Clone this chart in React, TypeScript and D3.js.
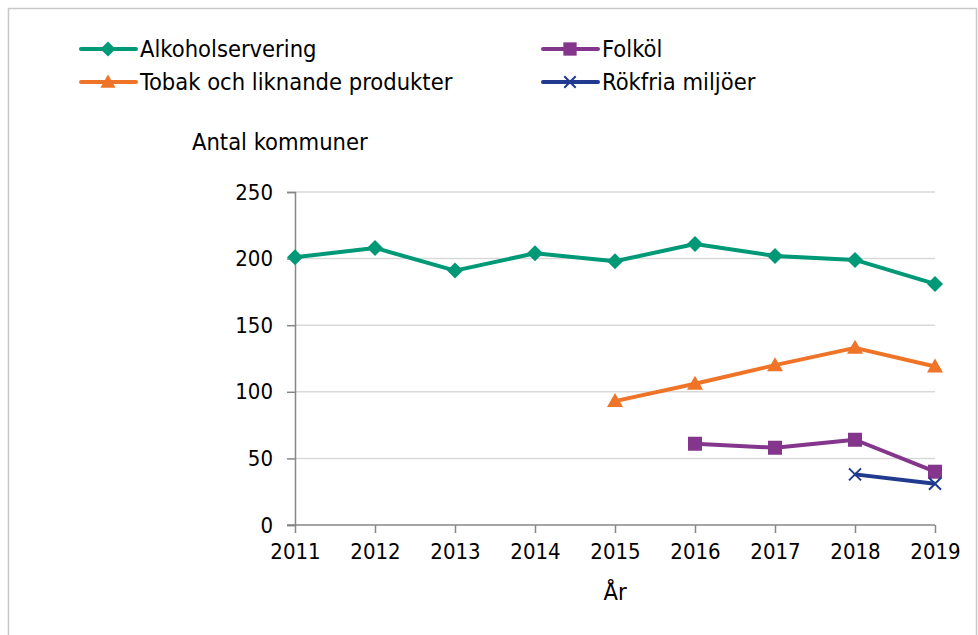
import React, { useEffect, useRef } from 'react';
import * as d3 from 'd3';

const years = [2011, 2012, 2013, 2014, 2015, 2016, 2017, 2018, 2019];
const alkoholservering = [201, 208, 191, 204, 198, 211, 202, 199, 181];
const tobak = [null, null, null, null, 93, 106, 120, 133, 119];
const folkol = [null, null, null, null, null, 61, 58, 64, 40];
const rokfria = [null, null, null, null, null, null, null, 38, 31];
const yTicks = [0, 50, 100, 150, 200, 250];

type Series = { name: string; values: (number | null)[]; color: string; marker: string };

const series: Series[] = [
  { name: 'Alkoholservering', values: alkoholservering, color: '#009977', marker: 'diamond' },
  { name: 'Tobak och liknande produkter', values: tobak, color: '#ef7427', marker: 'triangle' },
  { name: 'Folköl', values: folkol, color: '#84368c', marker: 'square' },
  { name: 'Rökfria miljöer', values: rokfria, color: '#1f3a8f', marker: 'cross' },
];

const FONT = '"DejaVu Sans Condensed", "DejaVu Sans", sans-serif';

function drawMarker(g: d3.Selection<SVGGElement, unknown, null, undefined>, kind: string, x: number, y: number, color: string, s = 1) {
  if (kind === 'diamond') {
    const r = 8 * s;
    g.append('path')
      .attr('d', `M${x},${y - r}L${x + r},${y}L${x},${y + r}L${x - r},${y}Z`)
      .attr('fill', color);
  } else if (kind === 'square') {
    const r = 7 * s;
    g.append('rect').attr('x', x - r).attr('y', y - r).attr('width', 2 * r).attr('height', 2 * r).attr('fill', color);
  } else if (kind === 'triangle') {
    const r = 8 * s;
    g.append('path')
      .attr('d', `M${x},${y - r}L${x + r},${y + r * 0.75}L${x - r},${y + r * 0.75}Z`)
      .attr('fill', color);
  } else {
    const r = 6 * s;
    g.append('path')
      .attr('d', `M${x - r},${y - r}L${x + r},${y + r}M${x - r},${y + r}L${x + r},${y - r}`)
      .attr('stroke', color)
      .attr('stroke-width', 2)
      .attr('fill', 'none');
  }
}

export default function App() {
  const svgRef = useRef<SVGSVGElement>(null);
  const width = 978;
  const height = 635;

  useEffect(() => {
    const svg = d3.select(svgRef.current);
    svg.selectAll('*').remove();

    // chart frame
    svg.append('rect')
      .attr('x', 8.5).attr('y', 8.5)
      .attr('width', 968).attr('height', 640)
      .attr('fill', 'white')
      .attr('stroke', '#c8c8c8')
      .attr('stroke-width', 1.5);

    const x = d3.scalePoint<number>().domain(years).range([295, 935]);
    const y = d3.scaleLinear().domain([0, 250]).range([525, 192]);

    const g = svg.append('g');

    // gridlines
    g.selectAll('.grid')
      .data(yTicks.filter(t => t > 0))
      .enter()
      .append('line')
      .attr('x1', 295).attr('x2', 935)
      .attr('y1', d => y(d)).attr('y2', d => y(d))
      .attr('stroke', '#d9d9d9')
      .attr('stroke-width', 1.5);

    // y axis
    const yAxis = g.append('g')
      .attr('transform', 'translate(295,0)')
      .call(d3.axisLeft(y).tickValues(yTicks).tickSize(8).tickPadding(14));
    yAxis.select('.domain').attr('stroke', '#868686').attr('stroke-width', 1.5);
    yAxis.selectAll('line').attr('stroke', '#868686').attr('stroke-width', 1.5);
    yAxis.selectAll('text')
      .attr('fill', '#000')
      .style('font-family', FONT)
      .style('font-size', '22px');

    // x axis
    const xAxis = g.append('g')
      .attr('transform', 'translate(0,525)')
      .call(d3.axisBottom(x).tickSize(8).tickPadding(10));
    xAxis.select('.domain').attr('d', 'M287,0H935').attr('stroke', '#868686').attr('stroke-width', 1.5);
    xAxis.selectAll('line').attr('stroke', '#868686').attr('stroke-width', 1.5);
    xAxis.selectAll('text')
      .attr('fill', '#000')
      .style('font-family', FONT)
      .style('font-size', '22px');

    // axis titles
    svg.append('text')
      .attr('x', 192).attr('y', 150)
      .style('font-family', FONT).style('font-size', '23.5px')
      .text('Antal kommuner');
    svg.append('text')
      .attr('x', 615).attr('y', 600)
      .attr('text-anchor', 'middle')
      .style('font-family', FONT).style('font-size', '23.5px')
      .text('År');

    // lines and markers
    series.forEach(s => {
      const pts = years
        .map((yr, i) => ({ yr, v: s.values[i] }))
        .filter(d => d.v !== null) as { yr: number; v: number }[];
      const line = d3.line<{ yr: number; v: number }>()
        .x(d => x(d.yr) as number)
        .y(d => y(d.v));
      g.append('path')
        .datum(pts)
        .attr('d', line)
        .attr('fill', 'none')
        .attr('stroke', s.color)
        .attr('stroke-width', 4)
        .attr('stroke-linejoin', 'round');
      pts.forEach(d => drawMarker(g, s.marker, x(d.yr) as number, y(d.v), s.color));
    });

    // legend
    const legendPos = [
      { lx: 81, ly: 49 },
      { lx: 81, ly: 82 },
      { lx: 543, ly: 49 },
      { lx: 543, ly: 82 },
    ];
    series.forEach((s, i) => {
      const { lx, ly } = legendPos[i];
      const lg = svg.append('g');
      lg.append('line')
        .attr('x1', lx).attr('x2', lx + 55)
        .attr('y1', ly).attr('y2', ly)
        .attr('stroke', s.color)
        .attr('stroke-width', 4)
        .attr('stroke-linecap', 'round');
      drawMarker(lg, s.marker, lx + 27, ly, s.color, 0.95);
      lg.append('text')
        .attr('x', lx + 59).attr('y', ly)
        .attr('dy', '0.35em')
        .style('font-family', FONT).style('font-size', '23.5px')
        .text(s.name);
    });
  }, []);

  return (
    <svg
      ref={svgRef}
      width={width}
      height={height}
      style={{ position: 'absolute', left: 0, top: 0, background: 'white' }}
    />
  );
}
